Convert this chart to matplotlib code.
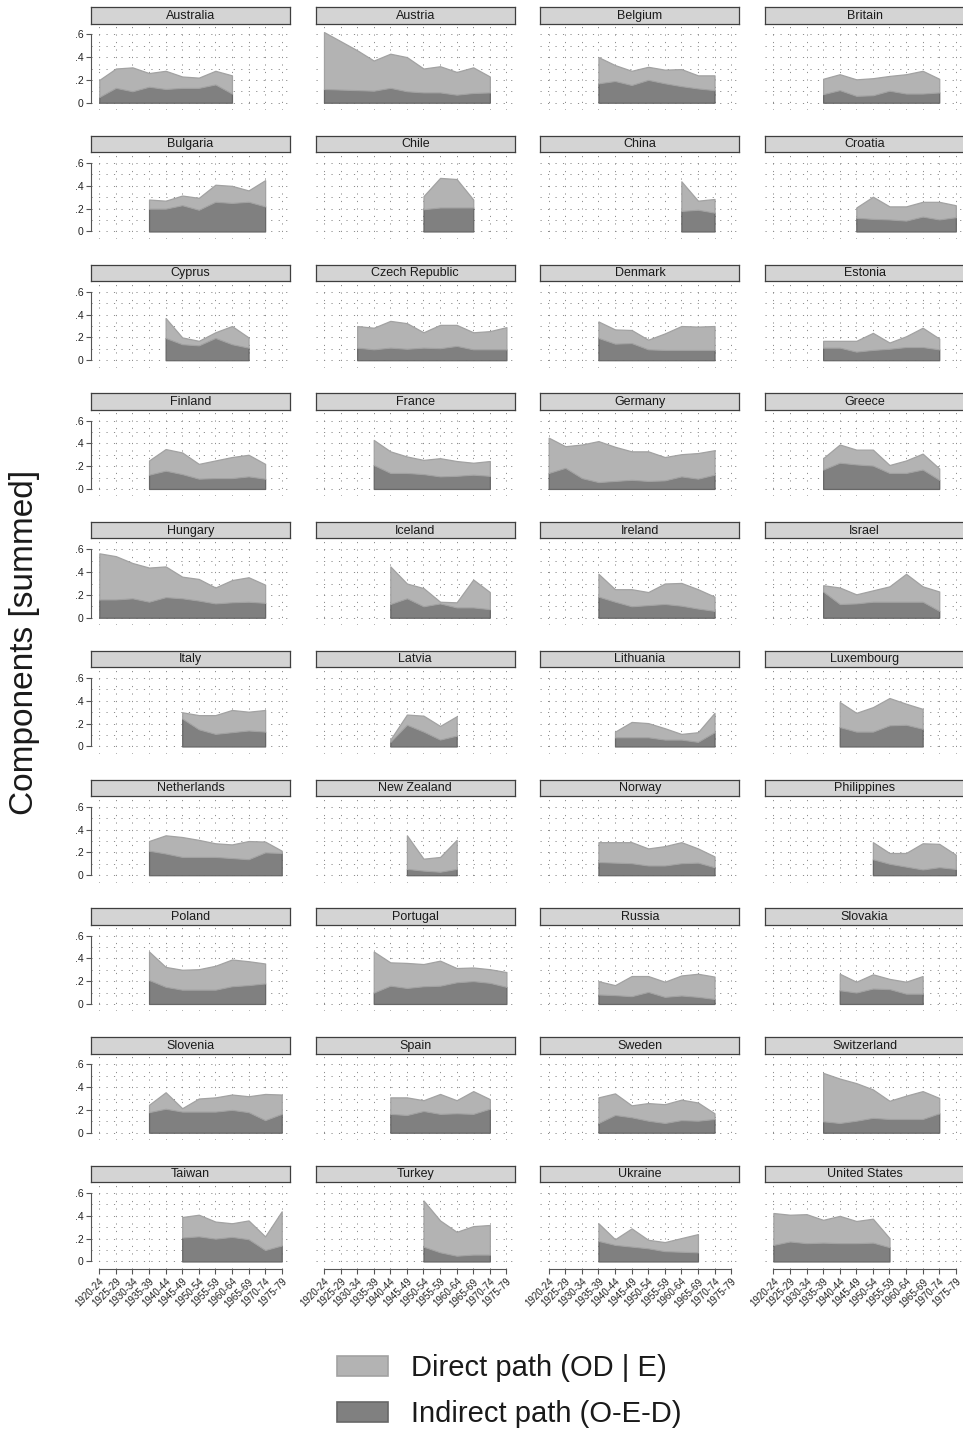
import matplotlib

matplotlib.use("Agg")
import matplotlib.pyplot as plt
import numpy as np
from matplotlib.patches import Patch

plt.rcParams["font.family"] = ["Liberation Sans", "DejaVu Sans"]

COHORTS = ["1920-24", "1925-29", "1930-34", "1935-39", "1940-44", "1945-49",
           "1950-54", "1955-59", "1960-64", "1965-69", "1970-74", "1975-79"]

COUNTRIES = [
    "Australia", "Austria", "Belgium", "Britain",
    "Bulgaria", "Chile", "China", "Croatia",
    "Cyprus", "Czech Republic", "Denmark", "Estonia",
    "Finland", "France", "Germany", "Greece",
    "Hungary", "Iceland", "Ireland", "Israel",
    "Italy", "Latvia", "Lithuania", "Luxembourg",
    "Netherlands", "New Zealand", "Norway", "Philippines",
    "Poland", "Portugal", "Russia", "Slovakia",
    "Slovenia", "Spain", "Sweden", "Switzerland",
    "Taiwan", "Turkey", "Ukraine", "United States",
]

# first observed birth cohort per country
FIRST = {
    "Australia": "1920-24", "Austria": "1920-24", "Belgium": "1935-39", "Britain": "1935-39",
    "Bulgaria": "1935-39", "Chile": "1950-54", "China": "1960-64", "Croatia": "1945-49",
    "Cyprus": "1940-44", "Czech Republic": "1930-34", "Denmark": "1935-39", "Estonia": "1935-39",
    "Finland": "1935-39", "France": "1935-39", "Germany": "1920-24", "Greece": "1935-39",
    "Hungary": "1920-24", "Iceland": "1940-44", "Ireland": "1935-39", "Israel": "1935-39",
    "Italy": "1945-49", "Latvia": "1940-44", "Lithuania": "1940-44", "Luxembourg": "1940-44",
    "Netherlands": "1935-39", "New Zealand": "1945-49", "Norway": "1935-39", "Philippines": "1950-54",
    "Poland": "1935-39", "Portugal": "1935-39", "Russia": "1935-39", "Slovakia": "1940-44",
    "Slovenia": "1935-39", "Spain": "1940-44", "Sweden": "1935-39", "Switzerland": "1935-39",
    "Taiwan": "1945-49", "Turkey": "1950-54", "Ukraine": "1935-39", "United States": "1920-24",
}

# indirect path (O-E-D)
INDIRECT = {
    "Australia": [0.05, 0.13, 0.10, 0.14, 0.12, 0.13, 0.13, 0.16, 0.08],
    "Austria": [0.12, 0.115, 0.11, 0.105, 0.13, 0.10, 0.09, 0.09, 0.07, 0.085, 0.09],
    "Belgium": [0.17, 0.19, 0.155, 0.20, 0.17, 0.145, 0.125, 0.11],
    "Britain": [0.075, 0.11, 0.06, 0.065, 0.105, 0.08, 0.08, 0.09],
    "Bulgaria": [0.20, 0.20, 0.23, 0.19, 0.26, 0.25, 0.26, 0.22],
    "Chile": [0.195, 0.21, 0.21, 0.21],
    "China": [0.18, 0.19, 0.165],
    "Croatia": [0.12, 0.11, 0.105, 0.095, 0.13, 0.105, 0.125],
    "Cyprus": [0.195, 0.14, 0.13, 0.195, 0.14, 0.11],
    "Czech Republic": [0.11, 0.095, 0.11, 0.10, 0.11, 0.105, 0.125, 0.095, 0.095, 0.095],
    "Denmark": [0.195, 0.145, 0.15, 0.095, 0.09, 0.09, 0.09, 0.09],
    "Estonia": [0.11, 0.11, 0.075, 0.09, 0.10, 0.115, 0.115, 0.095],
    "Finland": [0.125, 0.16, 0.13, 0.09, 0.095, 0.095, 0.11, 0.09],
    "France": [0.21, 0.14, 0.14, 0.13, 0.11, 0.115, 0.125, 0.115],
    "Germany": [0.14, 0.185, 0.095, 0.06, 0.07, 0.08, 0.07, 0.075, 0.11, 0.09, 0.125],
    "Greece": [0.17, 0.23, 0.215, 0.205, 0.14, 0.14, 0.17, 0.08],
    "Hungary": [0.16, 0.16, 0.17, 0.14, 0.18, 0.17, 0.15, 0.125, 0.135, 0.14, 0.13],
    "Iceland": [0.12, 0.17, 0.10, 0.125, 0.09, 0.09, 0.075],
    "Ireland": [0.185, 0.14, 0.10, 0.11, 0.12, 0.105, 0.08, 0.06],
    "Israel": [0.23, 0.12, 0.125, 0.14, 0.14, 0.14, 0.14, 0.06],
    "Italy": [0.245, 0.15, 0.11, 0.125, 0.14, 0.13],
    "Latvia": [0.04, 0.19, 0.13, 0.06, 0.095],
    "Lithuania": [0.08, 0.08, 0.08, 0.06, 0.06, 0.04, 0.125],
    "Luxembourg": [0.17, 0.13, 0.13, 0.185, 0.19, 0.155],
    "Netherlands": [0.215, 0.19, 0.16, 0.16, 0.16, 0.15, 0.14, 0.20, 0.195],
    "New Zealand": [0.055, 0.04, 0.03, 0.055],
    "Norway": [0.115, 0.11, 0.105, 0.085, 0.085, 0.105, 0.11, 0.07],
    "Philippines": [0.14, 0.10, 0.075, 0.05, 0.07, 0.055],
    "Poland": [0.21, 0.15, 0.125, 0.125, 0.125, 0.155, 0.165, 0.18],
    "Portugal": [0.10, 0.16, 0.14, 0.155, 0.16, 0.19, 0.20, 0.185, 0.15],
    "Russia": [0.083, 0.077, 0.068, 0.105, 0.062, 0.074, 0.062, 0.044],
    "Slovakia": [0.12, 0.10, 0.135, 0.13, 0.09, 0.09],
    "Slovenia": [0.18, 0.21, 0.185, 0.185, 0.185, 0.20, 0.18, 0.11, 0.165],
    "Spain": [0.165, 0.155, 0.19, 0.165, 0.17, 0.165, 0.21],
    "Sweden": [0.085, 0.155, 0.135, 0.105, 0.085, 0.11, 0.105, 0.12],
    "Switzerland": [0.10, 0.085, 0.105, 0.13, 0.12, 0.12, 0.12, 0.17],
    "Taiwan": [0.21, 0.22, 0.20, 0.215, 0.195, 0.10, 0.14],
    "Turkey": [0.13, 0.08, 0.05, 0.06, 0.06],
    "Ukraine": [0.18, 0.145, 0.13, 0.115, 0.09, 0.085, 0.08],
    "United States": [0.145, 0.175, 0.16, 0.165, 0.16, 0.16, 0.165, 0.125],
}

# direct path (OD | E), stacked on top of the indirect path
DIRECT = {
    "Australia": [0.15, 0.17, 0.21, 0.12, 0.16, 0.10, 0.09, 0.12, 0.16],
    "Austria": [0.50, 0.425, 0.35, 0.265, 0.30, 0.30, 0.21, 0.23, 0.20, 0.225, 0.14],
    "Belgium": [0.23, 0.14, 0.125, 0.115, 0.12, 0.15, 0.115, 0.13],
    "Britain": [0.135, 0.14, 0.145, 0.15, 0.13, 0.17, 0.20, 0.12],
    "Bulgaria": [0.08, 0.07, 0.085, 0.105, 0.15, 0.15, 0.10, 0.23],
    "Chile": [0.115, 0.26, 0.25, 0.07],
    "China": [0.26, 0.08, 0.12],
    "Croatia": [0.09, 0.195, 0.115, 0.125, 0.13, 0.155, 0.105],
    "Cyprus": [0.175, 0.06, 0.04, 0.05, 0.16, 0.09],
    "Czech Republic": [0.19, 0.19, 0.235, 0.225, 0.135, 0.205, 0.185, 0.15, 0.16, 0.195],
    "Denmark": [0.145, 0.125, 0.115, 0.085, 0.145, 0.21, 0.205, 0.21],
    "Estonia": [0.06, 0.06, 0.095, 0.15, 0.055, 0.095, 0.17, 0.095],
    "Finland": [0.125, 0.19, 0.19, 0.13, 0.155, 0.185, 0.19, 0.13],
    "France": [0.22, 0.19, 0.145, 0.125, 0.16, 0.13, 0.105, 0.13],
    "Germany": [0.31, 0.19, 0.295, 0.36, 0.30, 0.25, 0.26, 0.205, 0.195, 0.225, 0.215],
    "Greece": [0.10, 0.16, 0.13, 0.14, 0.07, 0.11, 0.14, 0.10],
    "Hungary": [0.405, 0.38, 0.31, 0.30, 0.27, 0.19, 0.19, 0.14, 0.195, 0.215, 0.16],
    "Iceland": [0.33, 0.13, 0.16, 0.015, 0.045, 0.245, 0.15],
    "Ireland": [0.20, 0.11, 0.15, 0.115, 0.18, 0.20, 0.17, 0.125],
    "Israel": [0.055, 0.145, 0.08, 0.10, 0.135, 0.245, 0.135, 0.17],
    "Italy": [0.055, 0.125, 0.165, 0.195, 0.165, 0.19],
    "Latvia": [0.02, 0.09, 0.14, 0.12, 0.17],
    "Lithuania": [0.05, 0.135, 0.125, 0.10, 0.05, 0.085, 0.17],
    "Luxembourg": [0.22, 0.165, 0.215, 0.24, 0.185, 0.175],
    "Netherlands": [0.085, 0.16, 0.175, 0.15, 0.12, 0.12, 0.16, 0.095, 0.02],
    "New Zealand": [0.295, 0.105, 0.13, 0.255],
    "Norway": [0.175, 0.18, 0.185, 0.15, 0.17, 0.185, 0.125, 0.095],
    "Philippines": [0.15, 0.095, 0.12, 0.23, 0.205, 0.125],
    "Poland": [0.25, 0.175, 0.175, 0.18, 0.21, 0.235, 0.21, 0.175],
    "Portugal": [0.36, 0.205, 0.22, 0.195, 0.22, 0.125, 0.12, 0.12, 0.13],
    "Russia": [0.117, 0.088, 0.177, 0.14, 0.133, 0.176, 0.203, 0.196],
    "Slovakia": [0.145, 0.095, 0.125, 0.09, 0.105, 0.155],
    "Slovenia": [0.065, 0.145, 0.03, 0.115, 0.125, 0.135, 0.14, 0.23, 0.17],
    "Spain": [0.145, 0.155, 0.095, 0.175, 0.115, 0.20, 0.085],
    "Sweden": [0.225, 0.19, 0.105, 0.155, 0.165, 0.18, 0.16, 0.05],
    "Switzerland": [0.425, 0.39, 0.33, 0.25, 0.16, 0.205, 0.245, 0.135],
    "Taiwan": [0.18, 0.19, 0.15, 0.12, 0.165, 0.12, 0.30],
    "Turkey": [0.405, 0.28, 0.21, 0.25, 0.26],
    "Ukraine": [0.155, 0.05, 0.16, 0.075, 0.08, 0.12, 0.16],
    "United States": [0.28, 0.235, 0.255, 0.20, 0.24, 0.195, 0.21, 0.08],
}

W, H = 963, 1431
NCOL, NROW = 4, 10
COL_X0, COL_STEP, PANEL_W = 91.0, 224.7, 199.0
ROW_Y0, ROW_STEP = 7.0, 128.75
STRIP_H = 16.5
PLOT_H = 86.5
YLIM = (-0.064, 0.695)

DIRECT_FC, DIRECT_EC = "#b3b3b3", "#a2a2a2"
INDIRECT_FC, INDIRECT_EC = "#808080", "#676767"
STRIP_FC, STRIP_EC = "#d4d4d4", "#3f3f3f"
GRID_C = "#8c8c8c"
AXIS_C = "#555555"


def px_axes(fig, left, top, width, height):
    return fig.add_axes([left / W, 1 - (top + height) / H, width / W, height / H])


def strip(fig, left, top, name):
    ax = px_axes(fig, left, top, PANEL_W, STRIP_H)
    ax.set_facecolor(STRIP_FC)
    ax.set_xticks([])
    ax.set_yticks([])
    for sp in ax.spines.values():
        sp.set_color(STRIP_EC)
        sp.set_linewidth(0.9)
    ax.text(0.5, 0.48, name, ha="center", va="center", fontsize=9, color="#1a1a1a",
            transform=ax.transAxes)


def panel(fig, r, c, name):
    left = COL_X0 + c * COL_STEP
    top = ROW_Y0 + r * ROW_STEP
    strip(fig, left, top, name)
    ax = px_axes(fig, left, top + STRIP_H, PANEL_W, PLOT_H)
    ax.set_facecolor("none")
    ax.set_xlim(-0.5, len(COHORTS) - 0.5)
    ax.set_ylim(*YLIM)

    xs = np.arange(len(COHORTS))
    ax.set_xticks(xs)
    ax.set_yticks([0, 0.2, 0.4, 0.6])
    ax.set_yticks([0.1, 0.3, 0.5], minor=True)
    ax.grid(True, which="both", color=GRID_C, lw=0.7, ls=(0, (1.2, 6.5)))
    ax.set_axisbelow(True)
    ax.tick_params(axis="y", which="minor", length=0)

    for sp in ax.spines.values():
        sp.set_visible(False)

    if c == 0:
        ax.spines["left"].set_visible(True)
        ax.spines["left"].set_bounds(0, 0.6)
        ax.spines["left"].set_color(AXIS_C)
        ax.spines["left"].set_linewidth(0.8)
        ax.set_yticklabels(["0", ".2", ".4", ".6"])
        ax.tick_params(axis="y", which="major", length=3.5, width=0.8, color=AXIS_C, pad=2,
                       labelsize=7.5, labelcolor="#222222")
    else:
        ax.tick_params(axis="y", which="major", length=0, labelleft=False)

    if r == NROW - 1:
        ax.spines["bottom"].set_visible(True)
        ax.spines["bottom"].set_bounds(0, len(COHORTS) - 1)
        ax.spines["bottom"].set_color(AXIS_C)
        ax.spines["bottom"].set_linewidth(0.8)
        ax.set_xticklabels(COHORTS, rotation=45, ha="right", rotation_mode="anchor")
        ax.tick_params(axis="x", length=3.5, width=0.8, color=AXIS_C, pad=2,
                       labelsize=7, labelcolor="#222222")
    else:
        ax.tick_params(axis="x", length=0, labelbottom=False)

    start = COHORTS.index(FIRST[name])
    ind = INDIRECT[name]
    dire = DIRECT[name]
    x = xs[start:start + len(ind)]
    polys = ax.stackplot(x, ind, dire, colors=[INDIRECT_FC, DIRECT_FC], lw=0.9, zorder=3)
    polys[0].set_edgecolor(INDIRECT_EC)
    polys[1].set_edgecolor(DIRECT_EC)


def main():
    fig = plt.figure(figsize=(W / 100, H / 100), dpi=100)
    fig.patch.set_facecolor("white")

    for k, name in enumerate(COUNTRIES):
        panel(fig, k // NCOL, k % NCOL, name)

    fig.text(25 / W, 1 - 642 / H, "Components [summed]", rotation=90, ha="center", va="center",
             fontsize=24, color="#1a1a1a")

    handles = [
        Patch(facecolor=DIRECT_FC, edgecolor=DIRECT_EC, lw=1.2, label="Direct path (OD | E)"),
        Patch(facecolor=INDIRECT_FC, edgecolor=INDIRECT_EC, lw=1.2, label="Indirect path (O-E-D)"),
    ]
    fig.legend(handles=handles, loc="center left", bbox_to_anchor=(322 / W, 1 - 1391 / H),
               frameon=False, fontsize=21, borderpad=0, handlelength=1.75, handleheight=0.68,
               handletextpad=0.8, labelspacing=0.6, labelcolor="#1a1a1a")

    fig.savefig("out.png", dpi=100)


if __name__ == "__main__":
    main()
